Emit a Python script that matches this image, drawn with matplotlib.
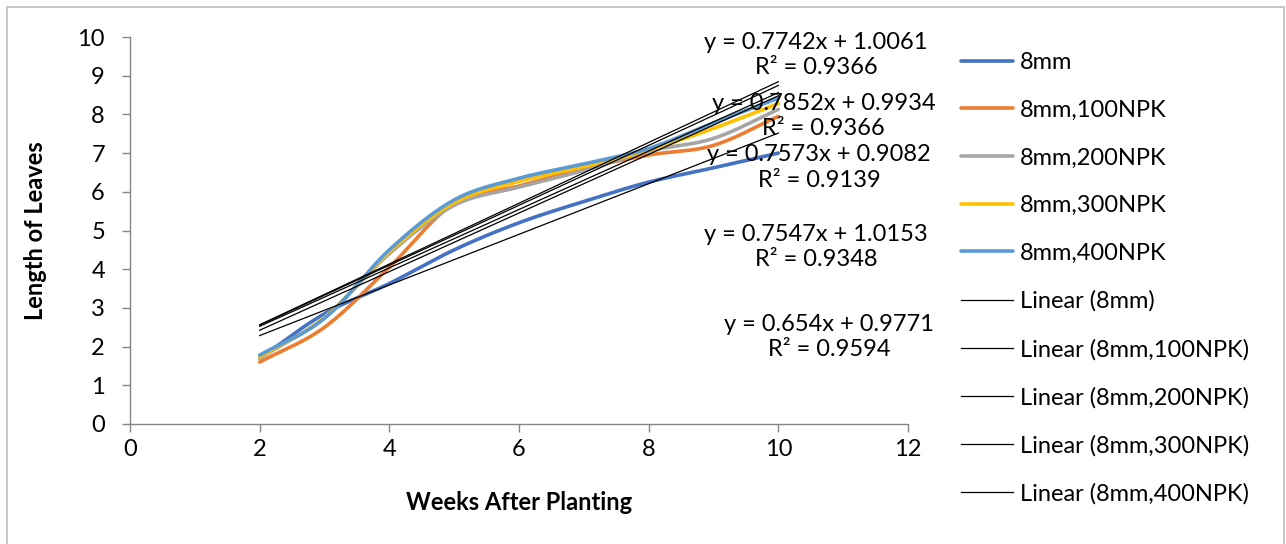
import numpy as np
import matplotlib.pyplot as plt
from matplotlib.patches import Rectangle

plt.rcParams['font.family'] = ['Lato', 'DejaVu Sans']

weeks = [2, 3, 4, 5, 6, 7, 8, 9, 10]

mm8 = [1.70, 2.85, 3.63, 4.50, 5.20, 5.75, 6.25, 6.62, 7.00]
npk100 = [1.60, 2.50, 4.05, 5.70, 6.15, 6.60, 6.95, 7.20, 7.95]
npk200 = [1.70, 2.75, 4.40, 5.65, 6.12, 6.55, 7.05, 7.38, 8.13]
npk300 = [1.73, 2.75, 4.45, 5.72, 6.27, 6.65, 7.08, 7.64, 8.28]
npk400 = [1.78, 2.73, 4.50, 5.79, 6.35, 6.72, 7.12, 7.78, 8.42]

names = ["8mm", "8mm,100NPK", "8mm,200NPK", "8mm,300NPK", "8mm,400NPK"]
series = [mm8, npk100, npk200, npk300, npk400]
colors = ["#4472C4", "#ED7D31", "#A5A5A5", "#FFC000", "#5B9BD5"]

# trendline equations as printed on the chart
slopes = [0.654, 0.7573, 0.7547, 0.7742, 0.7852]
intercepts = [0.9771, 0.9082, 1.0153, 1.0061, 0.9934]
r2 = [0.9594, 0.9139, 0.9348, 0.9366, 0.9366]
slope_txt = ["0.654", "0.7573", "0.7547", "0.7742", "0.7852"]
icpt_txt = ["0.9771", "0.9082", "1.0153", "1.0061", "0.9934"]

# where the equation labels sit (data coords)
label_pos = [(10.78, 2.24), (10.63, 6.63), (10.58, 4.57), (10.58, 9.53), (10.70, 7.96)]

FS = 17


def smooth(x, y, n=30):
    # catmull-rom, like excel's smoothed lines
    x = np.asarray(x, float)
    y = np.asarray(y, float)
    px = np.concatenate([[2 * x[0] - x[1]], x, [2 * x[-1] - x[-2]]])
    py = np.concatenate([[2 * y[0] - y[1]], y, [2 * y[-1] - y[-2]]])
    xs, ys = [], []
    t = np.linspace(0, 1, n, endpoint=False)
    for i in range(1, len(px) - 2):
        for p, out in ((px, xs), (py, ys)):
            p0, p1, p2, p3 = p[i - 1], p[i], p[i + 1], p[i + 2]
            out.extend(0.5 * (2 * p1 + (-p0 + p2) * t
                              + (2 * p0 - 5 * p1 + 4 * p2 - p3) * t ** 2
                              + (-p0 + 3 * p1 - 3 * p2 + p3) * t ** 3))
    xs.append(x[-1])
    ys.append(y[-1])
    return np.array(xs), np.array(ys)


fig = plt.figure(figsize=(12.86, 5.44), dpi=100)
ax = fig.add_axes([130 / 1286, 1 - 424 / 544, 778 / 1286, 387 / 544])

handles = []
for name, vals, c in zip(names, series, colors):
    sx, sy = smooth(weeks, vals)
    h, = ax.plot(sx, sy, color=c, lw=2.6, label=name, solid_capstyle='round', zorder=2)
    handles.append(h)

xr = np.array([weeks[0], weeks[-1]])
for i, name in enumerate(names):
    h, = ax.plot(xr, slopes[i] * xr + intercepts[i], color='black', lw=0.9,
                 label=f"Linear ({name})", zorder=3)
    handles.append(h)

for i in range(5):
    ax.text(label_pos[i][0], label_pos[i][1],
            f"y = {slope_txt[i]}x + {icpt_txt[i]}\nR\u00b2 = {r2[i]:.4f}",
            ha='center', va='center', multialignment='center', fontsize=FS,
            linespacing=1.25, zorder=4, clip_on=False)

ax.set_xlim(0, 12)
ax.set_ylim(0, 10)
ax.set_xticks(range(0, 13, 2))
ax.set_yticks(range(0, 11))
for s in ['top', 'right']:
    ax.spines[s].set_visible(False)
for s in ['left', 'bottom']:
    ax.spines[s].set_color('#868686')
    ax.spines[s].set_linewidth(1)
ax.tick_params(axis='both', colors='#868686', labelcolor='black', labelsize=FS, length=6, width=1)
ax.tick_params(axis='y', pad=12)
ax.tick_params(axis='x', pad=5)

ax.set_xlabel("Weeks After Planting", fontsize=FS, fontweight='bold', labelpad=22)
ax.set_ylabel("Length of Leaves", fontsize=FS, fontweight='bold', labelpad=22)

fig.legend(handles=handles, loc='upper left', bbox_to_anchor=(961 / 1286, 1 - 52 / 544),
           frameon=False, fontsize=FS, handlelength=2.2, handletextpad=0.3,
           labelspacing=1.13, borderpad=0, borderaxespad=0)

fig.add_artist(Rectangle((7 / 1286, -0.02), 1277 / 1286, 1 - 7 / 544 + 0.02,
                         transform=fig.transFigure, fill=False, edgecolor='#BDBDBD', lw=1.2))

fig.savefig("out.png", dpi=100)
